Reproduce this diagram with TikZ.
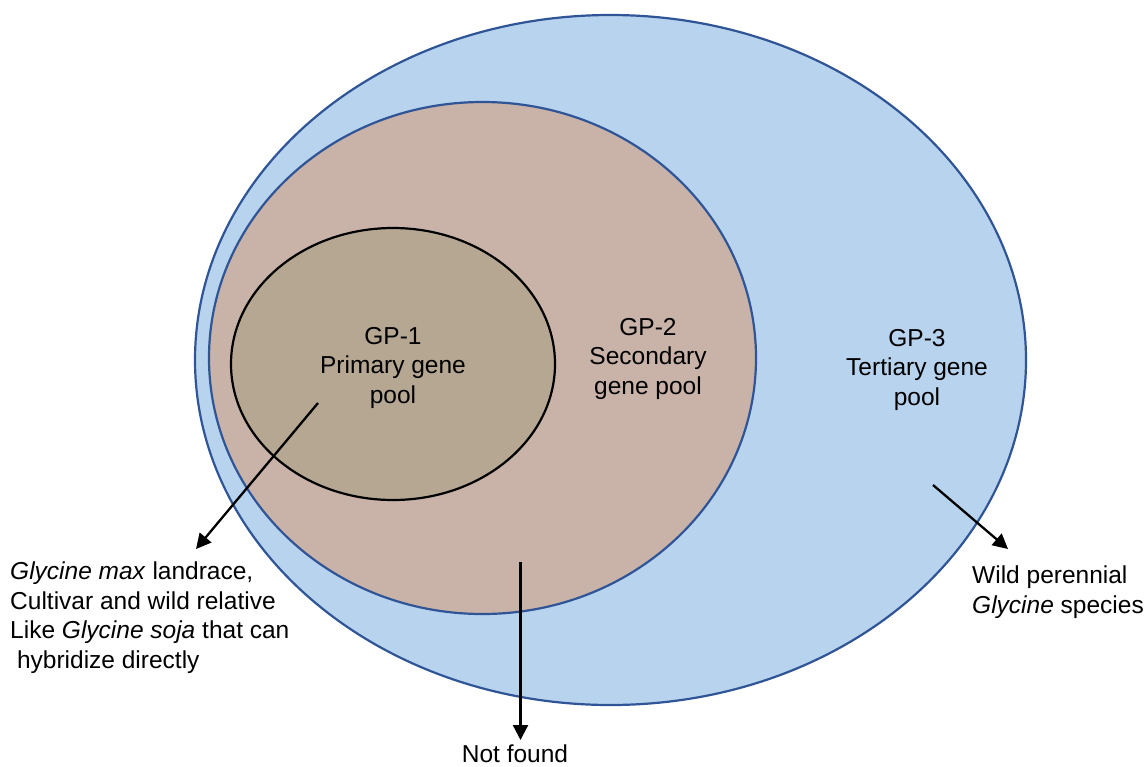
\documentclass[tikz,border=0pt]{standalone}
\usepackage{fontspec}
\setmainfont{Liberation Sans}
\usetikzlibrary{arrows.meta}
\definecolor{outerfill}{HTML}{B8D3EE}
\definecolor{bluedge}{HTML}{2F5597}
\definecolor{midfill}{HTML}{C9B2A8}
\definecolor{innerfill}{HTML}{B5A792}
\tikzset{
  pool/.style={line width=2.2pt},
  lbl/.style={inner sep=0pt, font=\fontsize{24.5}{29.5}\selectfont},
  pointer/.style={line width=2.3pt, -{Triangle[length=15pt,width=15pt]}}
}
\begin{document}
\begin{tikzpicture}[x=1pt,y=-1pt]
\useasboundingbox (0,0) rectangle (1145,766);
% gene pools
\path[pool, draw=bluedge, fill=outerfill] (610.5,360) ellipse [x radius=415.5pt, y radius=345pt];
\path[pool, draw=bluedge, fill=midfill] (482.5,358) ellipse [x radius=273.5pt, y radius=256pt];
\path[pool, draw=black, fill=innerfill] (393,364) ellipse [x radius=162pt, y radius=136pt];
% labels inside (anchor = baseline of last line)
\node[lbl, align=center, anchor=base] (gp1) at (393,403) {GP-1\\Primary gene\\pool};
\node[lbl, align=center, anchor=base] (gp2) at (648,394) {GP-2\\Secondary\\gene pool};
\node[lbl, align=center, anchor=base] (gp3) at (917,405) {GP-3\\Tertiary gene\\pool};
% outside labels
\node[lbl, align=left, anchor=base west] (t1) at (10,668) {\textit{Glycine max} landrace,\\Cultivar and wild relative\\Like \textit{Glycine soja} that can\\\hspace{0.28em}hybridize directly};
\node[lbl, anchor=base] (t2) at (515,762) {Not found};
\node[lbl, align=left, anchor=base west] (t3) at (972,613) {Wild perennial\\\textit{Glycine} species};
% arrows
\coordinate (a1s) at (318,403);
\coordinate (a1e) at (196,549);
\coordinate (a2s) at (520.5,562);
\coordinate (a2e) at (520.5,740);
\coordinate (a3s) at (933,485);
\coordinate (a3e) at (1008,549);
\draw[pointer] (a1s) -- (a1e);
\draw[pointer] (a2s) -- (a2e);
\draw[pointer] (a3s) -- (a3e);
\end{tikzpicture}
\end{document}
